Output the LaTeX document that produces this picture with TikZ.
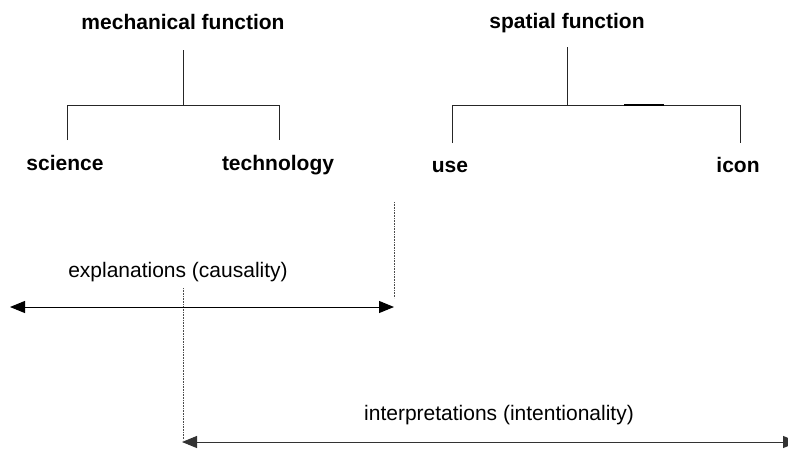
\documentclass[tikz,border=0pt]{standalone}
\usepackage{fontspec}
\setmainfont{Liberation Sans}
\usetikzlibrary{arrows.meta}
\begin{document}
\begin{tikzpicture}[x=1pt,y=-1pt,
  head/.style={font=\fontsize{21}{25}\selectfont\bfseries, inner sep=0pt, anchor=base},
  lbl/.style={font=\fontsize{21}{25}\selectfont, inner sep=0pt, anchor=base},
  tree/.style={line width=1pt, black!85},
  guide/.style={line width=0.6pt, densely dotted, black!70},
  span/.style={line width=1pt, {Triangle[length=15pt,width=12pt]}-{Triangle[length=15pt,width=12pt]}}]
\useasboundingbox (0,0) rectangle (788,448);
% texts
\node[head] (mech) at (183,29) {mechanical function};
\node[head] (sci) at (65,170) {science};
\node[head] (tech) at (278,170) {technology};
\node[head] (spat) at (567,28) {spatial function};
\node[head] (use) at (450,172) {use};
\node[head] (icon) at (738,172) {icon};
\node[lbl] (expl) at (178,277) {explanations (causality)};
\node[lbl] (interp) at (499,420) {interpretations (intentionality)};
% mechanical tree
\coordinate (m0) at (183,50);
\coordinate (m1) at (183,105);
\coordinate (mL) at (67,105);
\coordinate (mR) at (279,105);
\coordinate (mLb) at (67,140);
\coordinate (mRb) at (279,140);
\draw[tree] (m0) -- (m1);
\draw[tree] (mLb) -- (mL) -- (mR) -- (mRb);
% spatial tree
\coordinate (s0) at (567,47);
\coordinate (s1) at (567,105);
\coordinate (sL) at (452,105);
\coordinate (sR) at (740,105);
\coordinate (sLb) at (452,143);
\coordinate (sRb) at (740,143);
\coordinate (t1) at (624,105);
\coordinate (t2) at (664,105);
\draw[tree] (s0) -- (s1);
\draw[tree] (sLb) -- (sL) -- (sR) -- (sRb);
\draw[line width=2.2pt] (t1) -- (t2);
% guides
\coordinate (g1a) at (394,202);
\coordinate (g1b) at (394,298);
\coordinate (g2a) at (183,288);
\coordinate (g2b) at (183,440);
\draw[guide] (g1a) -- (g1b);
\draw[guide] (g2a) -- (g2b);
% spans
\coordinate (e1) at (10,307);
\coordinate (e2) at (394,307);
\coordinate (i1) at (182,442);
\coordinate (i2) at (798,442);
\draw[span] (e1) -- (e2);
\draw[span, black!80] (i1) -- (i2);
\end{tikzpicture}
\end{document}
